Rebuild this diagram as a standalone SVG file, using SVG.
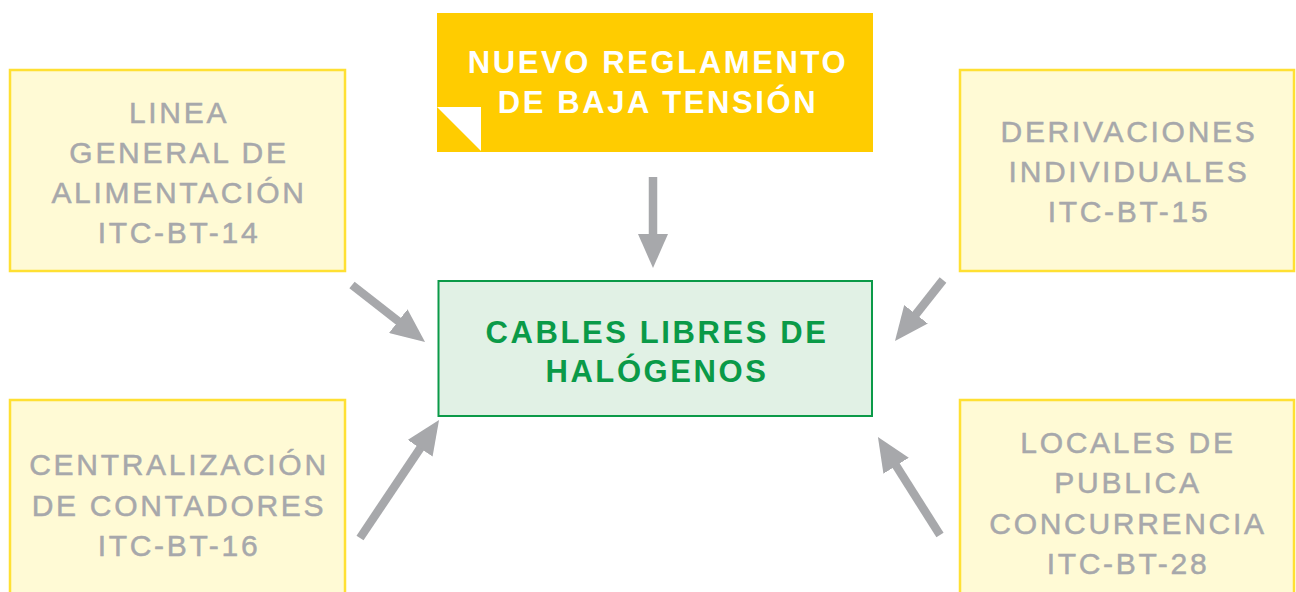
<svg xmlns="http://www.w3.org/2000/svg" width="1296" height="592" viewBox="0 0 1296 592">
<style>
.src rect{fill:#fffad5;stroke:#ffe033;stroke-width:2.5}
.src text{font-family:"Liberation Sans",Arial,sans-serif;font-size:30px;fill:#a7a8ab;stroke:#a7a8ab;stroke-width:0.5;letter-spacing:2.7px;text-anchor:middle}
.bold{font-family:"Liberation Sans",Arial,sans-serif;font-weight:bold;font-size:31px;letter-spacing:2.6px;text-anchor:middle}
.conn line{stroke:#a7a8ab;stroke-width:8.5;marker-end:url(#ah)}
</style>
<defs>
<marker id="ah" markerUnits="userSpaceOnUse" viewBox="0 0 34 30" refX="12" refY="15" markerWidth="34" markerHeight="30" orient="auto">
<path d="M0,0 L34,15 L0,30 Z" fill="#a7a8ab"/>
</marker>
</defs>
<rect width="1296" height="592" fill="#ffffff"/>
<g id="node-reglamento">
<rect x="437" y="13" width="436" height="139" fill="#ffcc00"/>
<polygon points="437,107 481,107 481,151" fill="#ffffff"/>
<text class="bold" fill="#ffffff"><tspan x="658" y="73">NUEVO REGLAMENTO</tspan><tspan x="658" y="113">DE BAJA TENSIÓN</tspan></text>
</g>
<g id="node-cables">
<rect x="438.5" y="281" width="433.5" height="135" fill="#e1f1e5" stroke="#0b9a48" stroke-width="2"/>
<text class="bold" fill="#0a9a48"><tspan x="657" y="343">CABLES LIBRES DE</tspan><tspan x="657" y="382">HALÓGENOS</tspan></text>
</g>
<g id="node-itc14" class="src">
<rect x="10" y="70" width="335" height="201"/>
<text><tspan x="179" y="123">LINEA</tspan><tspan x="179" y="163">GENERAL DE</tspan><tspan x="179" y="203">ALIMENTACIÓN</tspan><tspan x="179" y="243">ITC-BT-14</tspan></text>
</g>
<g id="node-itc15" class="src">
<rect x="960" y="70" width="334" height="201"/>
<text><tspan x="1129" y="142">DERIVACIONES</tspan><tspan x="1129" y="182">INDIVIDUALES</tspan><tspan x="1129" y="222">ITC-BT-15</tspan></text>
</g>
<g id="node-itc16" class="src">
<rect x="10" y="400" width="335" height="210"/>
<text><tspan x="179" y="475">CENTRALIZACIÓN</tspan><tspan x="179" y="516">DE CONTADORES</tspan><tspan x="179" y="556">ITC-BT-16</tspan></text>
</g>
<g id="node-itc28" class="src">
<rect x="960" y="400" width="334" height="210"/>
<text><tspan x="1128" y="453">LOCALES DE</tspan><tspan x="1128" y="493">PUBLICA</tspan><tspan x="1128" y="534">CONCURRENCIA</tspan><tspan x="1128" y="574">ITC-BT-28</tspan></text>
</g>
<g id="connectors" class="conn">
<line x1="653" y1="177" x2="653" y2="246"/>
<line x1="352" y1="285" x2="407.7" y2="328.5"/>
<line x1="943" y1="280" x2="908.6" y2="323.7"/>
<line x1="360" y1="538" x2="426.8" y2="438.3"/>
<line x1="940" y1="535" x2="889.7" y2="455.6"/>
</g>
</svg>
